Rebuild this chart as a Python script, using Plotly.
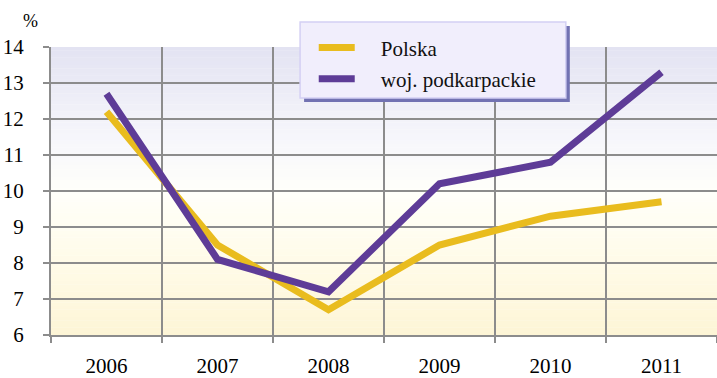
import plotly.graph_objects as go

years = ["2006", "2007", "2008", "2009", "2010", "2011"]
polska = [12.2, 8.5, 6.7, 8.5, 9.3, 9.7]
podkarpackie = [12.7, 8.1, 7.2, 10.2, 10.8, 13.3]
y_ticks = [6, 7, 8, 9, 10, 11, 12, 13, 14]

SERIF = "Times New Roman, Liberation Serif, DejaVu Serif, serif"
GRID = "#8c8c8c"
PAD = "\u00a0" * 4  # gap between legend swatch and label

fig = go.Figure()
fig.add_trace(go.Scatter(x=years, y=polska, name=PAD + "Polska", mode="lines",
                         line=dict(color="#e9bc1e", width=7), legendgroup="a"))
fig.add_trace(go.Scatter(x=years, y=podkarpackie, name=PAD + "woj. podkarpackie", mode="lines",
                         line=dict(color="#5e3c97", width=7), legendgroup="b"))

# vertical background gradient: lavender at top, white in middle, cream at bottom
stops = [(6.0, (253, 245, 214)), (8.0, (255, 251, 232)), (10.0, (255, 255, 250)),
         (11.5, (246, 246, 251)), (14.0, (227, 227, 242))]

def colour_at(v):
    for (a, ca), (b, cb) in zip(stops[:-1], stops[1:]):
        if a <= v <= b:
            t = (v - a) / (b - a)
            return "rgb(%d,%d,%d)" % tuple(round(ca[i] + (cb[i] - ca[i]) * t) for i in range(3))
    return "rgb(255,255,255)"

shapes = []
n = 80
for i in range(n):
    y0 = 6 + 8 * i / n
    y1 = 6 + 8 * (i + 1) / n
    shapes.append(dict(type="rect", xref="paper", yref="y", x0=0, x1=1, y0=y0, y1=y1 + 0.01,
                       fillcolor=colour_at((y0 + y1) / 2), line=dict(width=0), layer="below"))

# legend frame with drop shadow
shapes.append(dict(type="rect", xref="paper", yref="paper", x0=0.380, x1=0.779, y0=0.809, y1=1.073,
                   fillcolor="#7272b2", line=dict(width=0), layer="above"))
shapes.append(dict(type="rect", xref="paper", yref="paper", x0=0.374, x1=0.773, y0=0.823, y1=1.087,
                   fillcolor="#f1eefc", line=dict(color="#d4d0f4", width=1.5), layer="above"))

fig.update_layout(
    width=717, height=378,
    margin=dict(l=51, r=0, t=47, b=43),
    paper_bgcolor="white", plot_bgcolor="white",
    font=dict(family=SERIF, size=21, color="black"),
    shapes=shapes,
    showlegend=True,
    legend=dict(x=0.3945, y=1.068, xanchor="left", yanchor="top",
                bgcolor="rgba(0,0,0,0)", borderwidth=0,
                font=dict(family=SERIF, size=21, color="#111"),
                itemwidth=36, tracegroupgap=1),
    xaxis=dict(type="category", range=[-0.5, 5.5], tickson="boundaries",
               showgrid=True, gridcolor=GRID, gridwidth=2,
               ticks="outside", ticklen=6, tickwidth=2, tickcolor=GRID,
               showline=True, linecolor=GRID, linewidth=2, automargin=False,
               ticklabelstandoff=11, fixedrange=True),
    yaxis=dict(range=[6, 14], tickvals=y_ticks, showgrid=True, gridcolor=GRID, gridwidth=2,
               ticks="outside", ticklen=6, tickwidth=2, tickcolor=GRID,
               showline=True, linecolor=GRID, linewidth=2, zeroline=False, automargin=False,
               ticklabelstandoff=15, fixedrange=True),
    annotations=[dict(text="%", xref="paper", yref="paper", x=-0.0315, y=1.05,
                      xanchor="center", yanchor="bottom", showarrow=False,
                      font=dict(family=SERIF, size=18, color="black"))],
)

fig.write_html("out.html")
